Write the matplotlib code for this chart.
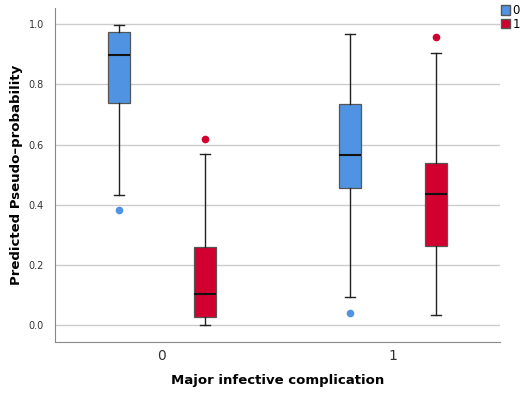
import matplotlib
matplotlib.use("Agg")
import matplotlib.pyplot as plt
from matplotlib.patches import Patch

categories = ["0", "1"]
groups = ["0", "1"]
# stats per (category, group): whislo, q1, med, q3, whishi, outliers
whislo = {("0", "0"): 0.433, ("0", "1"): 0.003, ("1", "0"): 0.095, ("1", "1"): 0.033}
q1 = {("0", "0"): 0.739, ("0", "1"): 0.028, ("1", "0"): 0.457, ("1", "1"): 0.264}
med = {("0", "0"): 0.897, ("0", "1"): 0.104, ("1", "0"): 0.565, ("1", "1"): 0.436}
q3 = {("0", "0"): 0.972, ("0", "1"): 0.260, ("1", "0"): 0.735, ("1", "1"): 0.540}
whishi = {("0", "0"): 0.997, ("0", "1"): 0.568, ("1", "0"): 0.966, ("1", "1"): 0.905}
fliers = {("0", "0"): [0.382], ("0", "1"): [0.619], ("1", "0"): [0.042], ("1", "1"): [0.958]}

colors = {"0": "#5193E3", "1": "#D2002F"}

fig = plt.figure(figsize=(5.23, 3.93), dpi=100)
ax = fig.add_axes([55/523, 1-342/393, 445/523, 334/393])

offset = 0.185
width = 0.095
for ci, cat in enumerate(categories):
    for gi, g in enumerate(groups):
        key = (cat, g)
        st = dict(whislo=whislo[key], q1=q1[key], med=med[key], q3=q3[key],
                  whishi=whishi[key], fliers=fliers[key])
        pos = ci + (-offset if gi == 0 else offset)
        ax.bxp([st], positions=[pos], widths=width, patch_artist=True,
               showfliers=True, capwidths=width*0.45,
               boxprops=dict(facecolor=colors[g], edgecolor="#555555", linewidth=0.9),
               medianprops=dict(color="#111111", linewidth=1.5),
               whiskerprops=dict(color="#222222", linewidth=1.0),
               capprops=dict(color="#222222", linewidth=1.0),
               flierprops=dict(marker="o", markerfacecolor=colors[g],
                               markeredgecolor=colors[g], markersize=4.5))

ax.set_xlim(-0.463, 1.463)
ax.set_ylim(-0.055, 1.053)
ax.set_xticks([0, 1])
ax.set_xticklabels(categories, fontsize=10, color="#333333")
ax.set_yticks([0.0, 0.2, 0.4, 0.6, 0.8, 1.0])
ax.set_yticklabels(["0.0", "0.2", "0.4", "0.6", "0.8", "1.0"], fontsize=7, color="#333333")
ax.yaxis.grid(True, color="#cccccc", linewidth=1.0)
ax.set_axisbelow(True)
for s in ["top", "right"]:
    ax.spines[s].set_visible(False)
for s in ["left", "bottom"]:
    ax.spines[s].set_color("#888888")
ax.tick_params(axis="x", length=0, pad=5)
ax.tick_params(axis="y", length=0, pad=8)
ax.set_xlabel("Major infective complication", fontsize=9.5, fontweight="bold", labelpad=8)
ax.set_ylabel("Predicted Pseudo\u2013probability", fontsize=9.5, fontweight="bold", labelpad=4)

handles = [Patch(facecolor=colors[g], edgecolor="#555555", label=g) for g in groups]
fig.legend(handles=handles, loc="upper left", bbox_to_anchor=(500/523, 1-3/393),
           frameon=False, fontsize=8.5, handlelength=0.75, handleheight=0.85,
           handletextpad=0.2, labelspacing=0.05, borderpad=0.1, borderaxespad=0.0)

fig.savefig("out.png", dpi=100)
